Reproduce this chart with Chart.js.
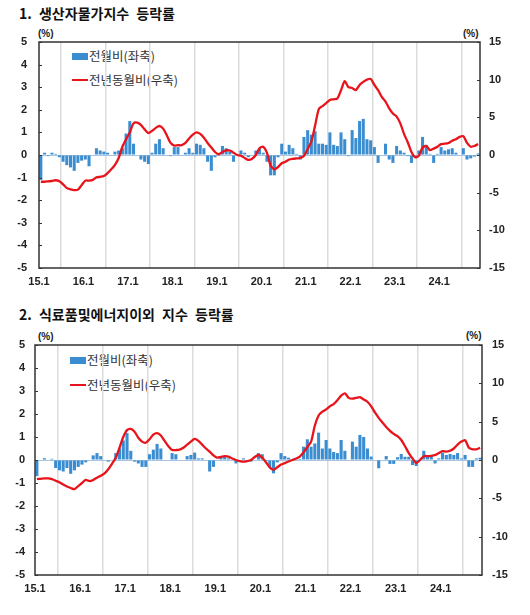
<!DOCTYPE html>
<html>
<head>
<meta charset="utf-8">
<script src="https://cdn.jsdelivr.net/npm/chart.js@4.4.1/dist/chart.umd.min.js"></script>
<style>
  body { margin: 0; background: #fff; width: 530px; height: 615px; position: relative; overflow: hidden;
         font-family: "Noto Sans CJK KR", sans-serif; }
  .title { position: absolute; left: 19px; font-weight: bold; font-size: 14px; line-height: 16px;
           color: #111; word-spacing: 4px; white-space: nowrap; }
  .unit { position: absolute; font: bold 10px "Liberation Sans", Arial, sans-serif; color: #222; }
  canvas { position: absolute; left: 0; }
  .leg { position: absolute; font-size: 12.5px; line-height: 14px; color: #333; white-space: nowrap;
         display: flex; align-items: center; }
  .sw-bar { display: inline-block; width: 16px; height: 7px; background: #3a8dd0; margin-right: 1px; }
  .sw-line { display: inline-block; width: 16px; height: 2px; background: #e8141c; margin-right: 1px; }
</style>
</head>
<body>
<div class="title" style="top:5px">1. 생산자물가지수 등락률</div>
<div class="unit" style="left:38px;top:28px">(%)</div>
<div class="unit" style="left:463px;top:28px">(%)</div>
<div class="leg" style="left:72px;top:49px"><span class="sw-bar"></span>전월비(좌축)</div>
<div class="leg" style="left:72px;top:73px"><span class="sw-line"></span>전년동월비(우축)</div>
<canvas id="c1" width="530" height="300" style="top:0"></canvas>

<div class="title" style="top:306px">2. 식료품및에너지이외 지수 등락률</div>
<div class="unit" style="left:38px;top:331px">(%)</div>
<div class="unit" style="left:466px;top:330px">(%)</div>
<div class="leg" style="left:70px;top:353px"><span class="sw-bar"></span>전월비(좌축)</div>
<div class="leg" style="left:70px;top:378px"><span class="sw-line"></span>전년동월비(우축)</div>
<canvas id="c2" width="530" height="315" style="top:300px"></canvas>

<script>
// months from 15.1 to 24.11
const monthCount = 119;
const tickMonths = [0, 12, 24, 36, 48, 60, 72, 84, 96, 108];
const tickLabels = ["15.1", "16.1", "17.1", "18.1", "19.1", "20.1", "21.1", "22.1", "23.1", "24.1"];

// 1. 생산자물가지수 - 전월비 (left axis, %)
const ppiMom = [
  -1.1, 0.1, -0.05, 0.1, 0.05, -0.1, -0.3, -0.45, -0.55, -0.7, -0.35, -0.25,
  -0.2, -0.5, 0.0, 0.3, 0.2, 0.15, 0.1, 0.0, 0.15, 0.2, 0.3, 0.95,
  1.5, 0.5, 0.0, -0.2, -0.3, -0.4, 0.1, 0.5, 0.7, 0.3, 0.0, -0.05,
  0.35, 0.35, 0.0, 0.1, 0.3, 0.1, 0.5, 0.45, 0.3, -0.3, -0.7, -0.1,
  0.0, 0.4, 0.3, 0.15, -0.3, 0.0, 0.2, 0.1, -0.1, 0.0, 0.2, 0.3,
  0.1, -0.3, -0.9, -0.9, -0.1, 0.5, 0.15, 0.45, 0.3, 0.05, -0.2, 0.8,
  1.1, 0.9, 1.05, 0.5, 0.5, 0.45, 1.0, 0.45, 0.4, 1.0, 0.7, -0.05,
  1.1, 0.75, 1.5, 1.6, 0.7, 0.65, 0.35, -0.35, 0.0, 0.5, -0.2, -0.35,
  0.4, 0.2, 0.1, -0.05, -0.35, -0.05, 0.2, 0.8, 0.45, 0.05, -0.35, 0.05,
  0.35, 0.2, 0.25, 0.3, 0.1, 0.0, 0.3, -0.2, -0.15, -0.07, 0.07
];
// 1. 생산자물가지수 - 전년동월비 (right axis, %)
const ppiYoy = [
  -3.55, -3.55, -3.5, -3.45, -3.35, -3.5, -3.9, -4.4, -4.55, -4.65, -4.6, -4.0,
  -3.4, -3.4, -3.3, -2.97, -2.9, -2.8, -2.4, -1.9, -1.3, -0.4, 1.1, 2.1,
  3.0, 4.2, 4.3, 4.0, 3.4, 2.9, 3.2, 3.6, 3.85, 3.5, 2.6, 1.6,
  1.25, 1.3, 1.3, 1.6, 2.2, 2.7, 3.0, 2.8, 2.3, 1.6, 1.0, 0.4,
  0.1, 0.4, 0.6, 0.6, 0.3, 0.0, -0.1, -0.4, -0.65, -0.5, 0.0, 0.9,
  1.1, 0.3, -1.4, -1.9, -1.6, -1.1, -0.9, -0.6, -0.5, -0.45, -0.4, -0.1,
  0.8, 1.8, 3.9, 6.1, 6.5, 6.9, 7.3, 7.4, 7.5, 8.6, 9.8, 9.0,
  8.9, 8.6, 9.3, 9.7, 10.0, 10.1, 9.3, 8.6, 7.7, 7.1, 6.2, 5.5,
  5.1, 4.2, 2.8, 1.7, 0.4, -0.3, -0.1, 1.0, 1.2, 0.65, 0.85, 1.1,
  1.45, 1.5, 1.6, 1.9, 2.1, 2.4, 2.5, 1.6, 1.1, 1.2, 1.45
];

// 2. 식료품및에너지이외 지수 - 전월비
const coreMom = [
  -0.7, 0.0, 0.08, 0.0, 0.05, -0.35, -0.45, -0.5, -0.35, -0.6, -0.45, -0.3,
  -0.2, -0.1, 0.0, 0.2, 0.3, 0.17, 0.0, -0.07, 0.0, 0.3, 0.5, 0.85,
  1.17, 0.4, -0.07, -0.15, -0.3, -0.3, 0.25, 0.45, 0.7, 0.5, 0.0, 0.0,
  0.3, 0.25, 0.0, 0.0, 0.17, 0.22, 0.32, 0.07, 0.07, 0.0, -0.5, -0.3,
  0.0, 0.17, 0.17, 0.07, 0.0, -0.15, 0.0, 0.07, 0.0, -0.07, 0.0, 0.3,
  0.25, -0.05, -0.32, -0.58, -0.1, 0.3, 0.17, 0.1, 0.0, 0.07, 0.05, 0.58,
  0.9, 0.58, 0.72, 1.19, 0.5, 0.87, 0.5, 0.35, 0.3, 0.87, 0.4, 0.0,
  0.8, 0.58, 1.09, 1.0, 0.5, 0.15, 0.0, -0.36, 0.0, 0.17, -0.17, -0.17,
  0.12, 0.26, 0.14, 0.14, -0.22, -0.26, 0.0, 0.4, 0.14, 0.17, -0.15, 0.07,
  0.32, 0.22, 0.26, 0.22, 0.3, 0.07, 0.22, -0.3, -0.3, 0.07, 0.1
];
// 2. 식료품및에너지이외 지수 - 전년동월비
const coreYoy = [
  -2.5, -2.45, -2.4, -2.4, -2.5, -2.7, -2.9, -3.2, -3.45, -3.65, -3.8, -3.4,
  -3.0, -2.6, -2.75, -2.6, -2.3, -2.05, -1.75, -1.2, -0.5, 0.3, 1.6, 3.0,
  3.9, 4.05, 3.7, 2.9, 2.4, 2.25, 2.7, 3.3, 3.5, 3.2, 2.5, 1.8,
  1.3, 1.3, 1.35, 1.6, 2.0, 2.4, 2.75, 2.5, 2.0, 1.5, 1.1, 0.6,
  0.3, 0.4, 0.5, 0.45, 0.2, 0.0, -0.15, -0.22, -0.15, 0.0, 0.4, 0.65,
  0.3, -0.3, -0.96, -1.3, -0.95, -0.6, -0.4, -0.2, 0.0, 0.2, 0.45, 1.0,
  1.7, 2.4, 4.5, 5.8, 6.3, 6.6, 7.0, 7.3, 7.8, 8.4, 8.7, 8.1,
  8.0, 8.1, 8.2, 7.9, 7.6, 7.0, 6.2, 5.5, 4.9, 4.3, 3.8, 3.4,
  3.1, 2.6, 1.8, 0.9, 0.2, -0.4, 0.0, 0.5, 0.5, 0.55, 0.65, 0.9,
  1.15, 1.1, 1.2, 1.5, 2.0, 2.4, 2.6, 1.6, 1.4, 1.4, 1.6
];

const barColor = "#3a8dd0";
const lineColor = "#e8141c";
const tickFont = { family: "'Liberation Sans', Arial, sans-serif", size: 11, weight: "bold" };

// box around the plot + short inner ticks on both value axes
const framePlugin = {
  id: "frame",
  afterDatasetsDraw(chart) {
    const { ctx, chartArea: a, scales } = chart;
    ctx.save();
    ctx.strokeStyle = "#333";
    ctx.lineWidth = 1.5;
    ctx.strokeRect(a.left, a.top, a.right - a.left, a.bottom - a.top);
    ctx.lineWidth = 1;
    ctx.beginPath();
    scales.y.ticks.forEach(t => {
      const py = Math.round(scales.y.getPixelForValue(t.value)) + 0.5;
      ctx.moveTo(a.left, py); ctx.lineTo(a.left + 3, py);
    });
    scales.y2.ticks.forEach(t => {
      const py = Math.round(scales.y2.getPixelForValue(t.value)) + 0.5;
      ctx.moveTo(a.right, py); ctx.lineTo(a.right - 3, py);
    });
    ctx.stroke();
    ctx.restore();
  }
};

function makeChart(id, mom, yoy, g) {
  return new Chart(document.getElementById(id), {
    type: "bar",
    data: {
      datasets: [
        {
          type: "line",
          data: yoy.map((v, i) => ({ x: i + 0.5, y: v })),
          yAxisID: "y2",
          borderColor: lineColor,
          borderWidth: 2.3,
          pointRadius: 0,
          tension: 0.25,
          order: 0
        },
        {
          type: "bar",
          data: mom.map((v, i) => ({ x: i + 0.5, y: v })),
          yAxisID: "y",
          backgroundColor: barColor,
          barPercentage: 0.82,
          categoryPercentage: 1,
          order: 1
        }
      ]
    },
    options: {
      responsive: false,
      animation: false,
      events: [],
      layout: { padding: { top: g.top } },
      plugins: { legend: { display: false }, tooltip: { enabled: false } },
      scales: {
        x: {
          type: "linear",
          min: 0,
          max: monthCount,
          offset: false,
          afterBuildTicks: s => { s.ticks = tickMonths.map(v => ({ value: v })); },
          afterFit: s => { s.height = g.xh; },
          grid: { color: "#dcdcdc", lineWidth: 1.5, drawTicks: false },
          border: { display: false },
          ticks: {
            callback: v => tickLabels[tickMonths.indexOf(v)],
            font: tickFont, color: "#222", padding: 7, maxRotation: 0, autoSkip: false
          }
        },
        y: {
          position: "left",
          min: -5, max: 5,
          afterFit: s => { s.width = g.left; },
          grid: { color: c => (c.tick.value === 0 ? "#a9c4e0" : "rgba(0,0,0,0)"), drawTicks: false },
          border: { display: false },
          ticks: { stepSize: 1, font: tickFont, color: "#222", padding: g.padL }
        },
        y2: {
          position: "right",
          min: -15, max: 15,
          afterFit: s => { s.width = g.right; },
          grid: { display: false, drawTicks: false },
          border: { display: false },
          ticks: { stepSize: 5, font: tickFont, color: "#222", padding: g.padR }
        }
      }
    },
    plugins: [framePlugin]
  });
}

makeChart("c1", ppiMom, ppiYoy, { top: 42, left: 39, right: 50, xh: 32, padL: 12, padR: 9 });
makeChart("c2", coreMom, coreYoy, { top: 45, left: 35, right: 48, xh: 40, padL: 10, padR: 10 });
</script>
</body>
</html>
